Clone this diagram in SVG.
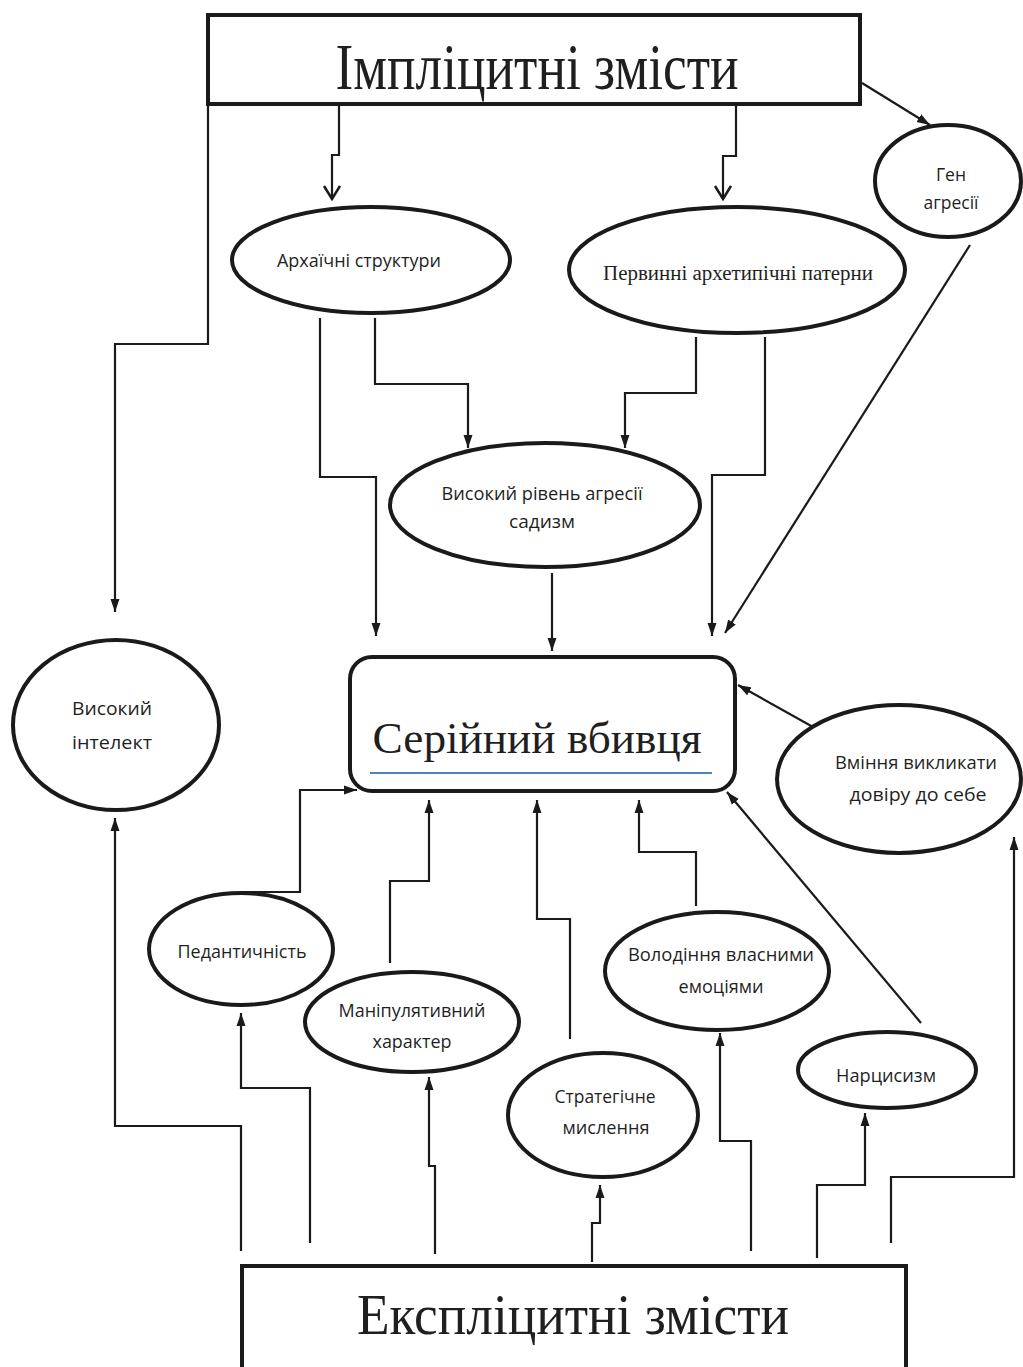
<svg xmlns="http://www.w3.org/2000/svg" width="1023" height="1367" viewBox="0 0 1023 1367">
<style>
.node{fill:#fff;stroke:#1a1a1a;stroke-width:4}
.c{fill:none;stroke:#1a1a1a;stroke-width:2.2}
.t{font-family:"Open Sans","Noto Sans",sans-serif;font-size:18.5px;fill:#1f1f1f;text-anchor:middle}
.s{font-family:"Liberation Serif","DejaVu Serif",serif;fill:#1f1f1f;text-anchor:middle}
</style>
<defs>
<marker id="a" markerUnits="userSpaceOnUse" markerWidth="14" markerHeight="10" refX="13" refY="5" orient="auto">
<path d="M0,0.5 L13,5 L0,9.5 z" fill="#1a1a1a"/>
</marker>
<marker id="v" markerUnits="userSpaceOnUse" markerWidth="16" markerHeight="20" refX="14" refY="9" orient="auto">
<path d="M1,1 L14,9 L1,17" fill="none" stroke="#1a1a1a" stroke-width="2.5"/>
</marker>
</defs>
<rect width="1023" height="1367" fill="#fff"/>

<g id="connectors">
<path class="c" d="M339,106 V155 H332 V199" marker-end="url(#v)"/>
<path class="c" d="M736,106 V156 H723 V199" marker-end="url(#v)"/>
<path class="c" d="M862,83 L930,125" marker-end="url(#a)"/>
<path class="c" d="M208,106 V344 H115 V612" marker-end="url(#a)"/>
<path class="c" d="M320,318 V477 H376 V636" marker-end="url(#a)"/>
<path class="c" d="M375,318 V384 H468 V448" marker-end="url(#a)"/>
<path class="c" d="M696,337 V393 H625 V448" marker-end="url(#a)"/>
<path class="c" d="M765,337 V475 H712 V636" marker-end="url(#a)"/>
<path class="c" d="M970,245 L725,633" marker-end="url(#a)"/>
<path class="c" d="M552,573 V651" marker-end="url(#a)"/>
<path class="c" d="M813,727 L738,685" marker-end="url(#a)"/>
<path class="c" d="M921,1023 L727,792" marker-end="url(#a)"/>
<path class="c" d="M241,892 H300 V790 H357" marker-end="url(#a)"/>
<path class="c" d="M390,963 V881 H429 V800" marker-end="url(#a)"/>
<path class="c" d="M570,1039 V919 H537 V800" marker-end="url(#a)"/>
<path class="c" d="M696,906 V852 H639 V800" marker-end="url(#a)"/>
<path class="c" d="M241,1251 V1126 H115 V818" marker-end="url(#a)"/>
<path class="c" d="M310,1243 V1088 H241 V1013" marker-end="url(#a)"/>
<path class="c" d="M435,1254 V1166 H429 V1077" marker-end="url(#a)"/>
<path class="c" d="M592,1262 V1223 H600 V1185" marker-end="url(#a)"/>
<path class="c" d="M751,1251 V1141 H720 V1033" marker-end="url(#a)"/>
<path class="c" d="M817,1258 V1185 H865 V1113" marker-end="url(#a)"/>
<path class="c" d="M891,1243 V1177 H1014 V837" marker-end="url(#a)"/>
</g>

<g id="implicit">
<rect class="node" x="208" y="15" width="652" height="89"/>
<text class="s" x="537" y="89" font-size="66" textLength="403" lengthAdjust="spacingAndGlyphs">Імпліцитні змісти</text>
</g>

<g id="archaic">
<ellipse class="node" cx="371" cy="260" rx="139" ry="53"/>
<text class="t" x="359" y="267" textLength="164" lengthAdjust="spacingAndGlyphs">Архаїчні структури</text>
</g>

<g id="patterns">
<ellipse class="node" cx="737" cy="270" rx="168" ry="63"/>
<text class="s" x="738" y="280" font-size="20" textLength="270" lengthAdjust="spacingAndGlyphs">Первинні архетипічні патерни</text>
</g>

<g id="gene">
<ellipse class="node" cx="948" cy="181" rx="73" ry="56"/>
<text class="t" x="951" y="181" textLength="30" lengthAdjust="spacingAndGlyphs">Ген</text>
<text class="t" x="951" y="209" textLength="55" lengthAdjust="spacingAndGlyphs">агресії</text>
</g>

<g id="aggression">
<ellipse class="node" cx="545" cy="505" rx="155" ry="62"/>
<text class="t" x="542" y="500" textLength="201" lengthAdjust="spacingAndGlyphs">Високий рівень агресії</text>
<text class="t" x="542" y="528" textLength="66" lengthAdjust="spacingAndGlyphs">садизм</text>
</g>

<g id="intellect">
<ellipse class="node" cx="116" cy="725" rx="103" ry="85"/>
<text class="t" x="112" y="715" textLength="80" lengthAdjust="spacingAndGlyphs">Високий</text>
<text class="t" x="112" y="749" textLength="80" lengthAdjust="spacingAndGlyphs">інтелект</text>
</g>

<g id="killer">
<rect class="node" x="350" y="657" width="385" height="134" rx="22"/>
<text class="s" x="537" y="753" font-size="45" textLength="329" lengthAdjust="spacingAndGlyphs">Серійний вбивця</text>
<line x1="370" y1="773" x2="712" y2="773" stroke="#4F81BD" stroke-width="2"/>
</g>

<g id="trust">
<ellipse class="node" cx="899" cy="779" rx="122" ry="74"/>
<text class="t" x="916" y="769" textLength="162" lengthAdjust="spacingAndGlyphs">Вміння викликати</text>
<text class="t" x="918" y="801" textLength="137" lengthAdjust="spacingAndGlyphs">довіру до себе</text>
</g>

<g id="pedantry">
<ellipse class="node" cx="241" cy="949" rx="92" ry="56"/>
<text class="t" x="242" y="958" textLength="129" lengthAdjust="spacingAndGlyphs">Педантичність</text>
</g>

<g id="manipulative">
<ellipse class="node" cx="412" cy="1022" rx="107" ry="50"/>
<text class="t" x="412" y="1017" textLength="147" lengthAdjust="spacingAndGlyphs">Маніпулятивний</text>
<text class="t" x="412" y="1048" textLength="79" lengthAdjust="spacingAndGlyphs">характер</text>
</g>

<g id="emotions">
<ellipse class="node" cx="717" cy="971" rx="112" ry="59"/>
<text class="t" x="721" y="961" textLength="186" lengthAdjust="spacingAndGlyphs">Володіння власними</text>
<text class="t" x="721" y="993" textLength="85" lengthAdjust="spacingAndGlyphs">емоціями</text>
</g>

<g id="strategic">
<ellipse class="node" cx="603" cy="1115" rx="95" ry="62"/>
<text class="t" x="605" y="1103" textLength="101" lengthAdjust="spacingAndGlyphs">Стратегічне</text>
<text class="t" x="606" y="1134" textLength="87" lengthAdjust="spacingAndGlyphs">мислення</text>
</g>

<g id="narcissism">
<ellipse class="node" cx="887" cy="1070" rx="89" ry="38"/>
<text class="t" x="886" y="1082" textLength="100" lengthAdjust="spacingAndGlyphs">Нарцисизм</text>
</g>

<g id="explicit">
<rect class="node" x="242" y="1266" width="664" height="130"/>
<text class="s" x="573" y="1334" font-size="56" textLength="432" lengthAdjust="spacingAndGlyphs">Експліцитні змісти</text>
</g>
</svg>
